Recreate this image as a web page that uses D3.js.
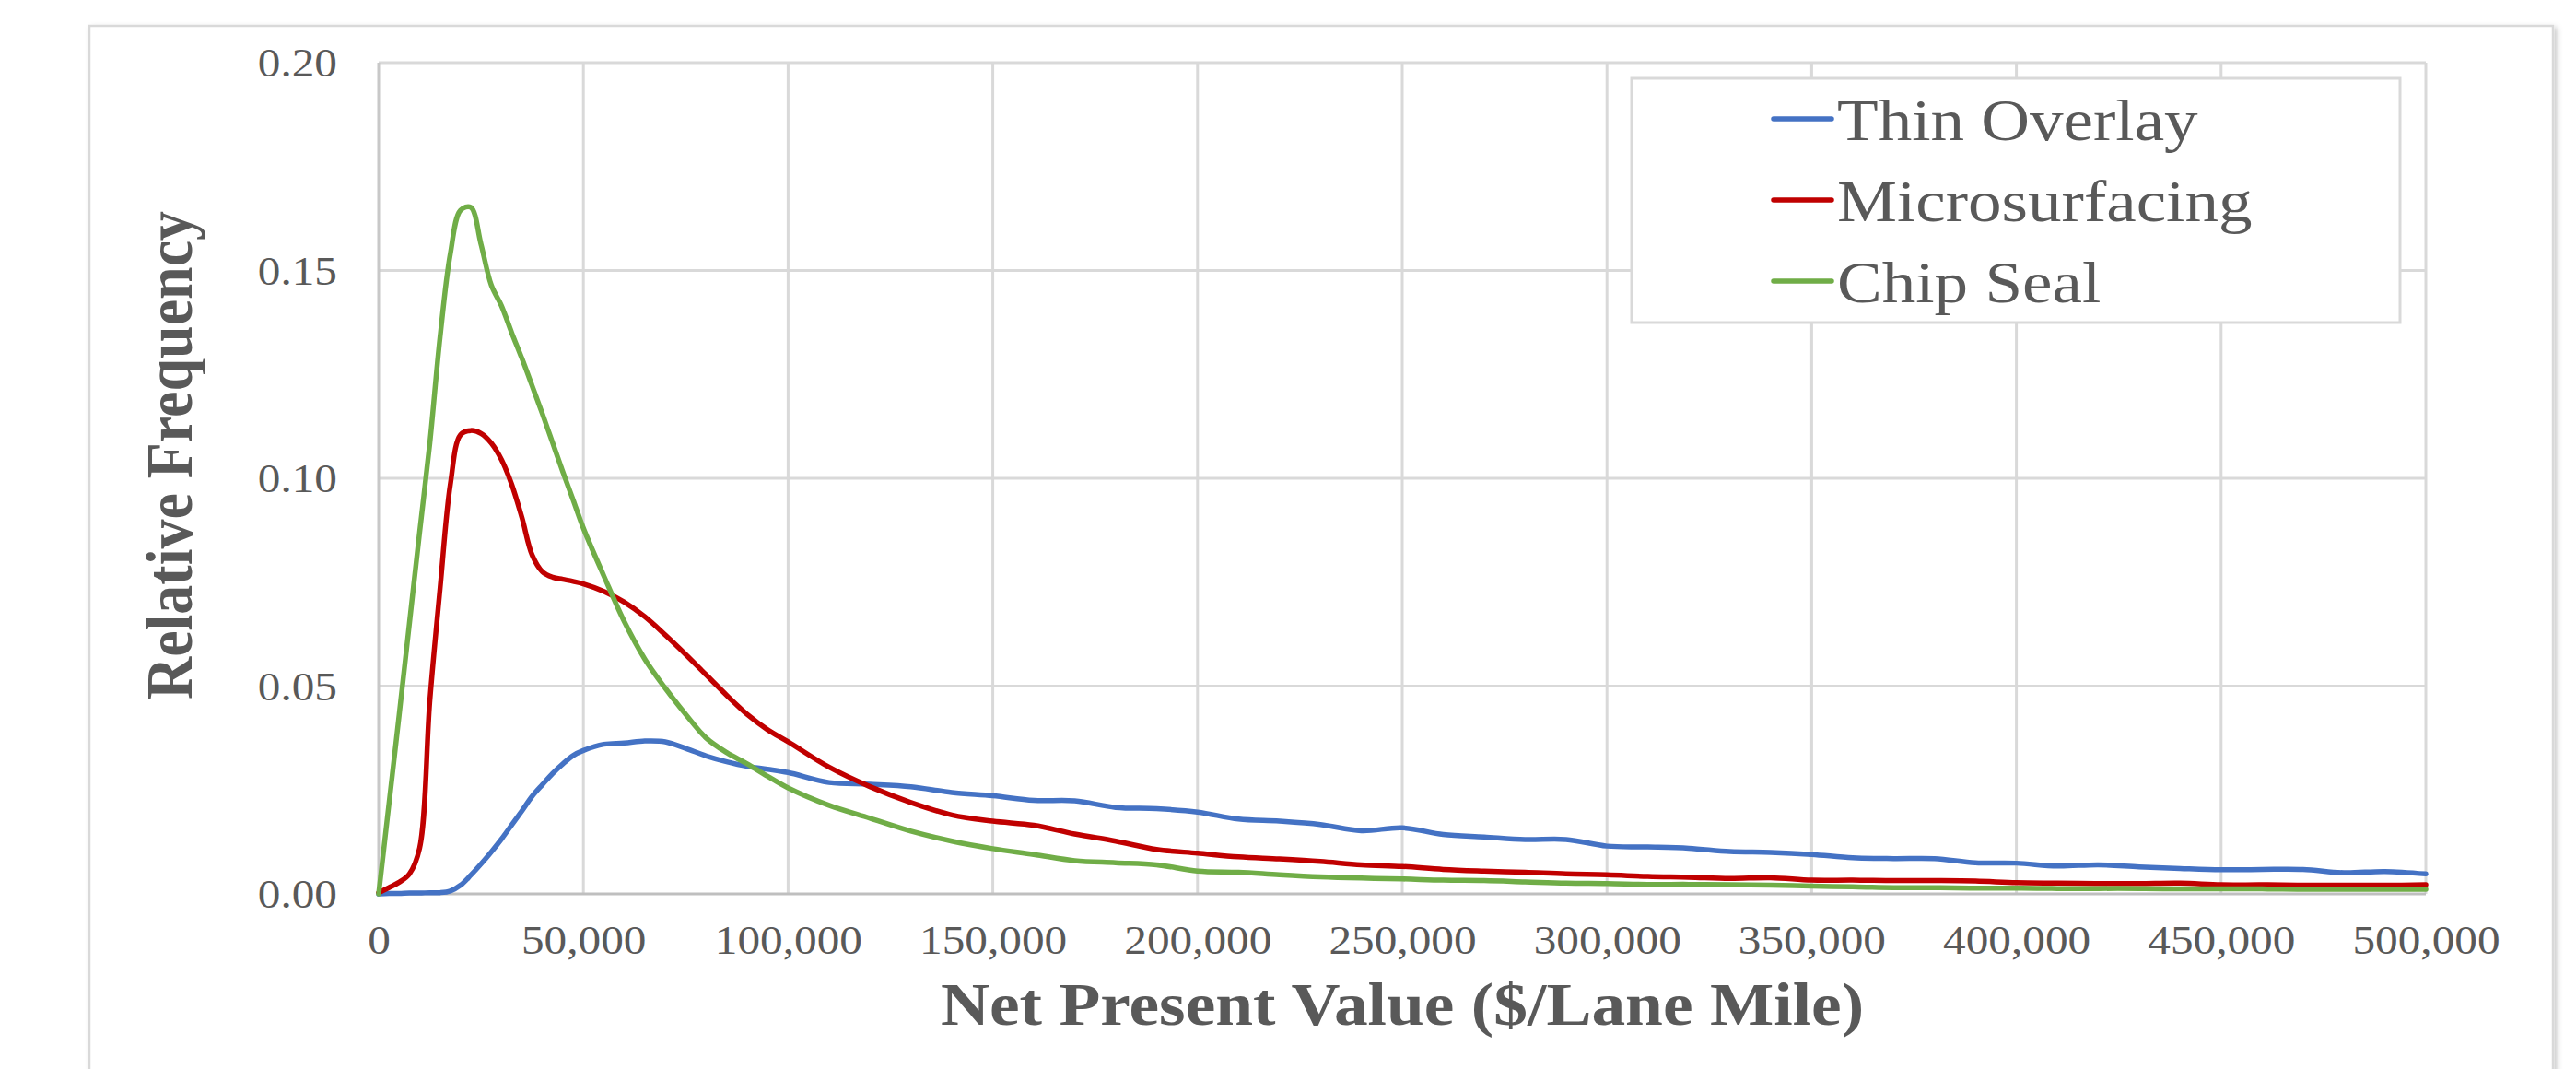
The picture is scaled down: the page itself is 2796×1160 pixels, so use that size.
<!DOCTYPE html>
<html>
<head>
<meta charset="utf-8">
<script src="https://cdn.jsdelivr.net/npm/d3@7"></script>
<style>
  html, body { margin: 0; padding: 0; background: #ffffff; }
  svg { display: block; }
</style>
</head>
<body>
<svg id="chart" width="2796" height="1160"></svg>
<script>
// Net present value bins ($ per lane mile)
const npv = [
  0, 2500, 5000, 7500, 10000, 12500, 15000, 17500, 20000, 22500,
  25000, 27500, 30000, 32500, 35000, 37500, 40000, 42500, 45000, 47500,
  50000, 55000, 60000, 65000, 70000, 75000, 80000, 85000, 90000, 95000,
  100000, 110000, 120000, 130000, 140000, 150000, 160000, 170000, 180000, 190000,
  200000, 210000, 220000, 230000, 240000, 250000, 260000, 270000, 280000, 290000,
  300000, 310000, 320000, 330000, 340000, 350000, 360000, 370000, 380000, 390000,
  400000, 410000, 420000, 430000, 440000, 450000, 460000, 470000, 480000, 490000,
  500000
];

// Relative frequency of each treatment
const thinOverlay = [
  0, 0.0001, 0.0001, 0.0002, 0.0002, 0.0003, 0.0003, 0.0007, 0.0021, 0.0045,
  0.0072, 0.0101, 0.0132, 0.0166, 0.0200, 0.0235, 0.0263, 0.0290, 0.0313, 0.0333,
  0.0345, 0.0360, 0.0363, 0.0368, 0.0366, 0.0350, 0.0332, 0.0318, 0.0307, 0.0300,
  0.0292, 0.0268, 0.0264, 0.0258, 0.0244, 0.0236, 0.0225, 0.0224, 0.0208, 0.0205,
  0.0197, 0.0180, 0.0175, 0.0167, 0.0152, 0.0159, 0.0143, 0.0137, 0.0131, 0.0131,
  0.0115, 0.0113, 0.0110, 0.0102, 0.0100, 0.0095, 0.0087, 0.0085, 0.0085, 0.0075,
  0.0074, 0.0067, 0.0070, 0.0065, 0.0061, 0.0058, 0.0059, 0.0059, 0.0051, 0.0054,
  0.0048
];

const microsurfacing = [
  0.0003, 0.0015, 0.0028, 0.0048, 0.0110, 0.0465, 0.0735, 0.0985, 0.1105, 0.1115,
  0.1108, 0.1085, 0.1045, 0.0985, 0.0905, 0.0815, 0.0775, 0.0762, 0.0757, 0.0752,
  0.0746, 0.0728, 0.0702, 0.0667, 0.0623, 0.0576, 0.0527, 0.0478, 0.0432, 0.0395,
  0.0366, 0.0305, 0.0258, 0.0220, 0.0190, 0.0175, 0.0165, 0.0144, 0.0127, 0.0107,
  0.0098, 0.0089, 0.0084, 0.0078, 0.0070, 0.0066, 0.0059, 0.0055, 0.0052, 0.0048,
  0.0046, 0.0042, 0.0040, 0.0037, 0.0039, 0.0033, 0.0033, 0.0032, 0.0032, 0.0031,
  0.0027, 0.0026, 0.0025, 0.0025, 0.0026, 0.0022, 0.0022, 0.0021, 0.0021, 0.0021,
  0.0022
];

const chipSeal = [
  0, 0.0215, 0.0430, 0.0650, 0.0870, 0.1085, 0.1340, 0.1540, 0.1645, 0.1652,
  0.1563, 0.1465, 0.1415, 0.1350, 0.1288, 0.1222, 0.1155, 0.1085, 0.1015, 0.0948,
  0.0880, 0.0765, 0.0655, 0.0565, 0.0495, 0.0432, 0.0375, 0.0340, 0.0313, 0.0283,
  0.0255, 0.0213, 0.0182, 0.0151, 0.0127, 0.0109, 0.0095, 0.0080, 0.0075, 0.0070,
  0.0055, 0.0052, 0.0046, 0.0041, 0.0038, 0.0036, 0.0033, 0.0032, 0.0029, 0.0026,
  0.0025, 0.0023, 0.0023, 0.0022, 0.0021, 0.0019, 0.0017, 0.0015, 0.0015, 0.0014,
  0.0014, 0.0013, 0.0013, 0.0013, 0.0012, 0.0012, 0.0012, 0.0011, 0.0011, 0.0011,
  0.0011
];

const seriesNames = ["Thin Overlay", "Microsurfacing", "Chip Seal"];
const seriesValues = [thinOverlay, microsurfacing, chipSeal];
const seriesColors = ["#4472C4", "#C00000", "#70AD47"];

const xTicks = [0, 50000, 100000, 150000, 200000, 250000, 300000, 350000, 400000, 450000, 500000];
const yTicks = [0, 0.05, 0.10, 0.15, 0.20];

const xTitle = "Net Present Value ($/Lane Mile)";
const yTitle = "Relative Frequency";

// ---- layout ----
const plot = { left: 411, right: 2633, top: 68, bottom: 970 };
const textColor = "#595959";
const serif = "'Liberation Serif', 'Times New Roman', Times, serif";
const stretch = 1.12;   // glyphs in this chart are set slightly wide

const svg = d3.select("#chart");

const x = d3.scaleLinear().domain([0, 500000]).range([plot.left, plot.right]);
const y = d3.scaleLinear().domain([0, 0.20]).range([plot.bottom, plot.top]);

// chart-area frame with a soft shadow
const defs = svg.append("defs");
const shadow = defs.append("filter").attr("id", "frameShadow")
  .attr("x", "-5%").attr("y", "-5%").attr("width", "110%").attr("height", "110%");
shadow.append("feDropShadow")
  .attr("dx", 3).attr("dy", 3).attr("stdDeviation", 3)
  .attr("flood-color", "#000").attr("flood-opacity", 0.22);

svg.append("rect")
  .attr("x", 97).attr("y", 28)
  .attr("width", 2674).attr("height", 1200)
  .attr("fill", "#ffffff")
  .attr("stroke", "#d9d9d9").attr("stroke-width", 2.5)
  .attr("filter", "url(#frameShadow)");

// gridlines
const grid = svg.append("g");
grid.selectAll("line.h")
  .data(yTicks.filter(d => d > 0))
  .join("line")
  .attr("x1", plot.left).attr("x2", plot.right)
  .attr("y1", d => y(d)).attr("y2", d => y(d))
  .attr("stroke", "#d9d9d9").attr("stroke-width", 3);
grid.selectAll("line.v")
  .data(xTicks.filter(d => d > 0))
  .join("line")
  .attr("x1", d => x(d)).attr("x2", d => x(d))
  .attr("y1", plot.top).attr("y2", plot.bottom)
  .attr("stroke", "#d9d9d9").attr("stroke-width", 3);

// axis lines
svg.append("line")
  .attr("x1", plot.left).attr("x2", plot.left)
  .attr("y1", plot.top).attr("y2", plot.bottom)
  .attr("stroke", "#c8c8c8").attr("stroke-width", 3);
svg.append("line")
  .attr("x1", plot.left).attr("x2", plot.right)
  .attr("y1", plot.bottom).attr("y2", plot.bottom)
  .attr("stroke", "#bfbfbf").attr("stroke-width", 3);

// y axis labels
const yAxis = svg.append("g")
  .attr("transform", `translate(${plot.left},0)`)
  .call(d3.axisLeft(y).tickValues(yTicks).tickFormat(d3.format(".2f")).tickSize(0));
yAxis.select(".domain").remove();
yAxis.selectAll("text")
  .attr("x", -45 / stretch)
  .attr("dy", "0.33em")
  .attr("transform", `scale(${stretch},1)`)
  .style("font-family", serif).style("font-size", "44px")
  .attr("fill", textColor);

// x axis labels
const xAxis = svg.append("g")
  .attr("transform", `translate(0,${plot.bottom})`)
  .call(d3.axisBottom(x).tickValues(xTicks).tickFormat(d3.format(",")).tickSize(0));
xAxis.select(".domain").remove();
xAxis.selectAll("text")
  .attr("y", 65).attr("dy", 0)
  .attr("transform", `scale(${stretch},1)`)
  .style("font-family", serif).style("font-size", "44px")
  .attr("fill", textColor);

// axis titles
svg.append("text")
  .attr("transform", `translate(${(plot.left + plot.right) / 2},1112) scale(1.13,1)`)
  .attr("text-anchor", "middle")
  .style("font-family", serif).style("font-size", "65px").style("font-weight", "bold")
  .attr("fill", textColor)
  .text(xTitle);

svg.append("text")
  .attr("transform", "translate(208,494) scale(1.13,1) rotate(-90)")
  .attr("text-anchor", "middle")
  .style("font-family", serif).style("font-size", "64px").style("font-weight", "bold")
  .attr("fill", textColor)
  .text(yTitle);

// series lines, smoothed
const line = d3.line()
  .x((d, i) => x(npv[i]))
  .y(d => y(Math.max(0, d)))
  .curve(d3.curveCatmullRom.alpha(0.5));

svg.append("g").selectAll("path")
  .data(seriesValues)
  .join("path")
  .attr("d", d => line(d))
  .attr("fill", "none")
  .attr("stroke", (d, i) => seriesColors[i])
  .attr("stroke-width", 5.5)
  .attr("stroke-linejoin", "round")
  .attr("stroke-linecap", "round");

// legend
const legend = svg.append("g");
legend.append("rect")
  .attr("x", 1771).attr("y", 85)
  .attr("width", 834).attr("height", 265)
  .attr("fill", "#ffffff")
  .attr("stroke", "#d9d9d9").attr("stroke-width", 3);

const items = legend.selectAll("g.item")
  .data(seriesNames)
  .join("g")
  .attr("transform", (d, i) => `translate(0,${152 + i * 88})`);
items.append("line")
  .attr("x1", 1925).attr("x2", 1988)
  .attr("y1", -23).attr("y2", -23)
  .attr("stroke", (d, i) => seriesColors[i])
  .attr("stroke-width", 5.5)
  .attr("stroke-linecap", "round");
items.append("text")
  .attr("transform", "translate(1994,0) scale(1.16,1)")
  .style("font-family", serif).style("font-size", "63px")
  .attr("fill", textColor)
  .text(d => d);
</script>
</body>
</html>
